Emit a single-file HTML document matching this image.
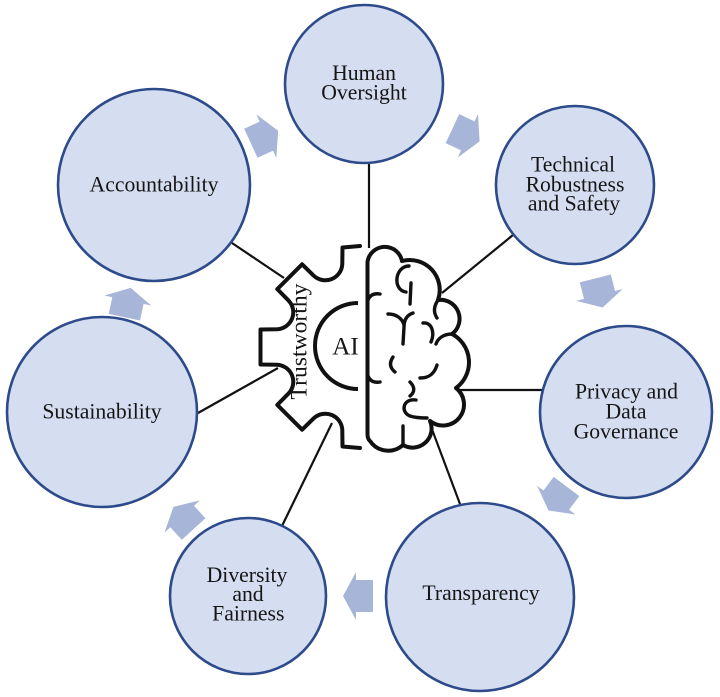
<!DOCTYPE html>
<html>
<head>
<meta charset="utf-8">
<style>
html,body{margin:0;padding:0;background:#fff;}
svg{display:block;}
text{font-family:"Liberation Serif","Times New Roman",serif;fill:#151515;}
</style>
</head>
<body>
<svg width="720" height="697" viewBox="0 0 720 697" xmlns="http://www.w3.org/2000/svg">
<rect width="720" height="697" fill="#ffffff"/>

<!-- connectors -->
<g stroke="#111" stroke-width="2.2" fill="none">
  <line x1="369" y1="162" x2="369" y2="248"/>
  <line x1="232" y1="243" x2="284" y2="278"/>
  <line x1="513" y1="235" x2="442" y2="293"/>
  <line x1="545" y1="390" x2="458" y2="390"/>
  <line x1="460" y1="504" x2="430" y2="424"/>
  <line x1="282" y1="526" x2="332" y2="423"/>
  <line x1="198" y1="413" x2="278" y2="368"/>
</g>

<!-- circles -->
<g fill="#d5def0" stroke="#2d4a8b" stroke-width="2.6">
  <circle cx="364" cy="84" r="79"/>
  <circle cx="575" cy="185" r="79"/>
  <circle cx="626" cy="412" r="86"/>
  <circle cx="480" cy="597" r="94"/>
  <circle cx="248" cy="596" r="78"/>
  <circle cx="102" cy="412" r="95"/>
  <circle cx="154" cy="185" r="96"/>
</g>

<!-- block arrows -->
<g fill="#a7b5d8">
  <polygon points="-15,-16 2,-16 2,-24 15,0 2,24 2,16 -15,16" transform="translate(264.5,137) rotate(-24.7)"/>
  <polygon points="-15,-16 2,-16 2,-24 15,0 2,24 2,16 -15,16" transform="translate(466,135) rotate(25.1)"/>
  <polygon points="-15,-16 2,-16 2,-24 15,0 2,24 2,16 -15,16" transform="translate(599,293) rotate(75.7)"/>
  <polygon points="-15,-16 2,-16 2,-24 15,0 2,24 2,16 -15,16" transform="translate(557.5,498.5) rotate(126.9)"/>
  <polygon points="-15,-16 2,-16 2,-24 15,0 2,24 2,16 -15,16" transform="translate(358,596) rotate(180)"/>
  <polygon points="-15,-16 2,-16 2,-24 15,0 2,24 2,16 -15,16" transform="translate(183.5,518) rotate(227.6)"/>
  <polygon points="-15,-16 2,-16 2,-24 15,0 2,24 2,16 -15,16" transform="translate(127.5,302.5) rotate(-77.9)"/>
</g>

<!-- gear (left half) -->
<path d="M 360,246 L 342.5,247.5 L 342.3,263.9 A 17 17 0 0 1 313.7,275.7 L 302.1,264.3 L 277.3,289.1 L 288.7,300.7 A 17 17 0 0 1 276.9,329.3 L 260.5,329.5 L 260.5,364.5 L 276.9,364.7 A 17 17 0 0 1 288.7,393.3 L 277.3,404.9 L 302.1,429.7 L 313.7,418.3 A 17 17 0 0 1 342.3,430.1 L 342.5,446.5 L 360,448"
 fill="none" stroke="#111" stroke-width="4" stroke-linejoin="round" stroke-linecap="round"/>

<!-- AI half circle -->
<path d="M 358,303 A 43 43 0 0 0 358,389" fill="none" stroke="#111" stroke-width="4"/>

<!-- brain (right half) -->
<path d="M 367.5,262 A 17.5 17.5 0 0 1 402,261 A 30 30 0 0 1 438,300 A 19 19 0 0 1 452,334 A 32 32 0 0 1 456,388 A 21 21 0 0 1 430,421 A 19 19 0 0 1 403,445 A 22 22 0 0 1 370,441 Q 367.5,439 367.5,434 Z"
 fill="#fff" stroke="#111" stroke-width="4" stroke-linejoin="round"/>
<g fill="none" stroke="#111" stroke-width="3.4" stroke-linecap="round">
  <path d="M 409,266 C 395,266 392,290 406,292"/>
  <path d="M 411,283 L 410,304"/>
  <path d="M 368,300 C 370,295 374,293 380,294"/>
  <path d="M 388,314 C 396,314 402,318 404,325"/>
  <path d="M 413,313 C 407,315 404,320 404,327 L 403,344"/>
  <path d="M 423,323 C 432,322 435,333 431,342"/>
  <path d="M 438,300 C 434,306 433,312 437,318"/>
  <path d="M 393,357 C 389,363 390,368 395,372"/>
  <path d="M 452,334 C 444,334 438,338 436,344"/>
  <path d="M 437,365 C 434,375 428,378 420,378"/>
  <path d="M 368,376 C 370,381 374,383 380,382"/>
  <path d="M 410,382 C 415,387 415,392 410,396"/>
  <path d="M 416,400 C 403,398 400,412 410,416 C 416,418 422,418 427,418"/>
  <path d="M 403,426 L 403,444"/>
</g>

<!-- center labels -->
<text x="345.5" y="354.5" font-size="25" text-anchor="middle">AI</text>
<text transform="translate(306.5,341.5) rotate(-90)" x="0" y="0" font-size="23" text-anchor="middle" textLength="116" lengthAdjust="spacingAndGlyphs">Trustworthy</text>

<!-- circle labels -->
<g font-size="21.7" text-anchor="middle">
  <text x="364" y="80">Human</text>
  <text x="364" y="99.5">Oversight</text>

  <text x="573" y="171.5">Technical</text>
  <text x="575" y="191.5">Robustness</text>
  <text x="574" y="210.5">and Safety</text>

  <text x="626.5" y="398.5">Privacy and</text>
  <text x="626" y="418.5">Data</text>
  <text x="626" y="438.5">Governance</text>

  <text x="481" y="600">Transparency</text>

  <text x="247" y="582">Diversity</text>
  <text x="248" y="601">and</text>
  <text x="248.3" y="620.5">Fairness</text>

  <text x="102" y="418.5">Sustainability</text>

  <text x="154" y="191.5">Accountability</text>
</g>
</svg>
</body>
</html>
